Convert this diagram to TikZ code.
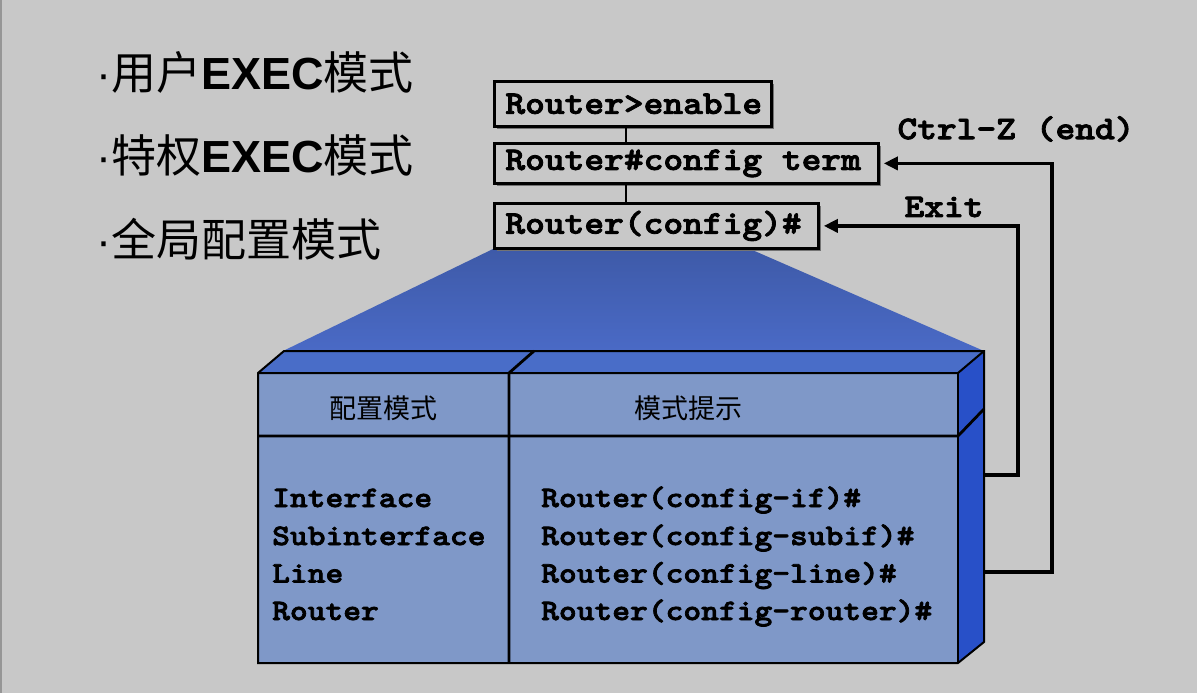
\documentclass[tikz,border=0pt]{standalone}
\usepackage{fontspec}
\newfontfamily\courb{lmmonolt10-bold}[Extension=.otf, FakeStretch=1.14, FakeBold=2.5]
\newfontfamily\cjk{Noto Sans CJK SC}
\newfontfamily\sansf{Liberation Sans}
\usetikzlibrary{arrows.meta,shadows}
\definecolor{bg}{RGB}{200,200,200}
\definecolor{edgec}{RGB}{150,150,150}
\definecolor{frontc}{RGB}{127,152,200}
\definecolor{topc}{RGB}{73,109,200}
\definecolor{sidec}{RGB}{40,80,200}
\definecolor{beamtop}{RGB}{62,90,168}
\definecolor{beambot}{RGB}{74,106,198}
\definecolor{shadowc}{RGB}{115,115,115}
\begin{document}
\begin{tikzpicture}[x=1pt,y=-1pt,
  cmdbox/.style={draw, line width=2.8pt, fill=bg, anchor=north west, inner xsep=11pt, inner ysep=0pt,
    font=\courb\fontsize{33}{36}\selectfont,
    drop shadow={shadow xshift=3pt, shadow yshift=-3pt, fill=shadowc, opacity=1}},
  lbl/.style={font=\courb\fontsize{33}{36}\selectfont, inner sep=0pt},
  bodytxt/.style={font=\courb\fontsize{29.7}{32}\selectfont, anchor=base west, inner sep=0pt},
  headtxt/.style={font=\cjk\fontsize{27}{30}\selectfont, anchor=base, inner sep=0pt},
  bigtxt/.style={font=\cjk\fontsize{45}{50}\selectfont, anchor=base west, inner sep=0pt},
  arrowline/.style={line width=3.5pt, -{Triangle[length=14pt,width=13pt]}, shorten >=4pt},
  boxline/.style={line width=2pt, line join=miter},
  divline/.style={line width=2.8pt}
]
\useasboundingbox (0,0) rectangle (1197,693);
\fill[bg] (0,0) rectangle (1197,693);
\fill[edgec] (0,0) rectangle (2,693);

% left bullet texts
\node[bigtxt] (t1) at (96,89) {{\sansf ·}用户{\sansf\bfseries EXEC}模式};
\node[bigtxt] (t2) at (96,172) {{\sansf ·}特权{\sansf\bfseries EXEC}模式};
\node[bigtxt] (t3) at (96,256) {{\sansf ·}全局配置模式};

% projection beam
\shade[top color=beamtop, bottom color=beambot] (493,249) -- (750,249) -- (984,351) -- (283,351) -- cycle;

% 3D table box
\fill[frontc] (258,373) rectangle (958,663);
\fill[topc] (258,373) -- (284,351) -- (984,351) -- (958,373) -- cycle;
\fill[sidec] (958,373) -- (984,351) -- (984,642) -- (958,663) -- cycle;
\draw[boxline] (258,663) -- (258,373) -- (284,351) -- (984,351) -- (984,642) -- (958,663) -- cycle;
\draw[boxline] (258,373) -- (958,373) -- (984,351);
\draw[divline] (958,373) -- (958,663);
\draw[divline] (258,436) -- (958,436) -- (984,409);
\draw[divline] (509,663) -- (509,373) -- (534,351);

% table texts
\node[headtxt] (h1) at (383,418) {配置模式};
\node[headtxt] (h2) at (688,418) {模式提示};
\node[bodytxt] (l1) at (272,507) {Interface};
\node[bodytxt] (l2) at (272,545) {Subinterface};
\node[bodytxt] (l3) at (272,582.5) {Line};
\node[bodytxt] (l4) at (272,620) {Router};
\node[bodytxt] (r1) at (541,507) {Router(config-if)\#};
\node[bodytxt] (r2) at (541,545) {Router(config-subif)\#};
\node[bodytxt] (r3) at (541,582.5) {Router(config-line)\#};
\node[bodytxt] (r4) at (541,620) {Router(config-router)\#};

% command boxes
\coordinate (vx) at (626,0);
\node[cmdbox, minimum height=45pt] (b1) at (493,80) {\makebox[255pt][l]{Router>enable}};
\node[cmdbox, minimum height=40pt] (b2) at (493,142) {\makebox[362pt][l]{Router\#config term}};
\node[cmdbox, minimum height=45pt] (b3) at (493,202) {\makebox[302pt][l]{Router(config)\#}};
\draw[divline] (b1.south -| vx) -- (b2.north -| vx);
\draw[divline] (b2.south -| vx) -- (b3.north -| vx);

% return arrows
\coordinate (exitsrc) at (984,475);
\coordinate (ctrlsrc) at (984,572);
\coordinate (exitx) at (1018,0);
\coordinate (ctrlx) at (1052,0);
\draw[arrowline] (exitsrc) -| (exitx |- b3.east) -- (b3.east);
\draw[arrowline] (ctrlsrc) -| (ctrlx |- b2.east) -- (b2.east);
\node[lbl] (ctrllbl) at (1016,129) {Ctrl-Z (end)};
\node[lbl] (exitlbl) at (944,207) {Exit};
\end{tikzpicture}
\end{document}
